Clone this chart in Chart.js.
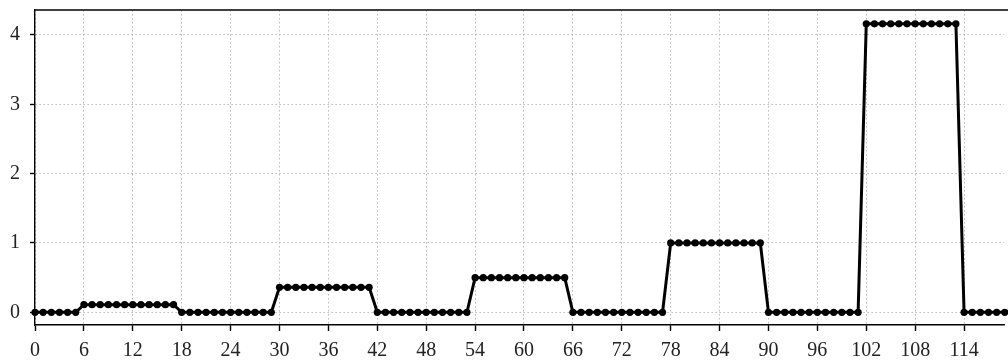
<!DOCTYPE html>
<html>
<head>
<meta charset="utf-8">
<script src="https://cdn.jsdelivr.net/npm/chart.js@4/dist/chart.umd.min.js"></script>
<style>
html,body{margin:0;padding:0;background:#fff;overflow:hidden;}
#wrap{width:1008px;height:362px;position:relative;}
</style>
</head>
<body>
<div id="wrap"><canvas id="c" width="1008" height="362"></canvas></div>
<script>
const steps = [0,1,2,3,4,5,6,7,8,9,10,11,12,13,14,15,16,17,18,19,20,21,22,23,24,25,26,27,28,29,
30,31,32,33,34,35,36,37,38,39,40,41,42,43,44,45,46,47,48,49,50,51,52,53,54,55,56,57,58,59,
60,61,62,63,64,65,66,67,68,69,70,71,72,73,74,75,76,77,78,79,80,81,82,83,84,85,86,87,88,89,
90,91,92,93,94,95,96,97,98,99,100,101,102,103,104,105,106,107,108,109,110,111,112,113,114,115,116,117,118,119];
const values = [
0,0,0,0,0,0,
0.11,0.11,0.11,0.11,0.11,0.11,0.11,0.11,0.11,0.11,0.11,0.11,
0,0,0,0,0,0,0,0,0,0,0,0,
0.36,0.36,0.36,0.36,0.36,0.36,0.36,0.36,0.36,0.36,0.36,0.36,
0,0,0,0,0,0,0,0,0,0,0,0,
0.5,0.5,0.5,0.5,0.5,0.5,0.5,0.5,0.5,0.5,0.5,0.5,
0,0,0,0,0,0,0,0,0,0,0,0,
1.0,1.0,1.0,1.0,1.0,1.0,1.0,1.0,1.0,1.0,1.0,1.0,
0,0,0,0,0,0,0,0,0,0,0,0,
4.16,4.16,4.16,4.16,4.16,4.16,4.16,4.16,4.16,4.16,4.16,4.16,
0,0,0,0,0,0];
const xTicks = [0,6,12,18,24,30,36,42,48,54,60,66,72,78,84,90,96,102,108,114];
const yTicks = [0,1,2,3,4];

const FONT = "'Liberation Serif','DejaVu Serif',serif";

const topBorder = {
  id:'topBorder',
  afterDraw(chart){
    const {ctx, chartArea:a} = chart;
    ctx.save();
    ctx.strokeStyle='#000';
    ctx.lineWidth=1.4;
    ctx.beginPath();
    ctx.moveTo(a.left, a.top);
    ctx.lineTo(a.right+20, a.top);
    ctx.stroke();
    ctx.restore();
  }
};

new Chart(document.getElementById('c'), {
  type:'line',
  data:{
    datasets:[{
      data: steps.map((s,i)=>({x:s, y:values[i]})),
      borderColor:'#000',
      backgroundColor:'#000',
      borderWidth:3,
      pointRadius:3.6,
      pointBorderWidth:0,
      pointBackgroundColor:'#000',
      tension:0,
      clip:false
    }]
  },
  options:{
    responsive:false,
    animation:false,
    events:[],
    layout:{padding:{top:0,right:0,left:0,bottom:0}},
    plugins:{legend:{display:false}, tooltip:{enabled:false}},
    scales:{
      x:{
        type:'linear',
        min:0, max:118.9,
        afterBuildTicks(s){ s.ticks = xTicks.map(v=>({value:v})); },
        afterFit(s){ s.height = 37; s.paddingRight = 0; s.paddingLeft = 0; },
        grid:{color:'#b0b0b0', lineWidth:0.9, drawTicks:true, tickLength:6, tickColor:'#000', tickWidth:1.4},
        border:{display:true, color:'#000', width:1.4, dash:[1.5,2.5]},
        ticks:{color:'#222', font:{family:FONT, size:20}, padding:8, maxRotation:0, autoSkip:false}
      },
      y:{
        type:'linear',
        min:-0.183, max:4.36,
        afterBuildTicks(s){ s.ticks = yTicks.map(v=>({value:v})); },
        afterFit(s){ s.width = 35; s.paddingTop = 10; s.paddingBottom = 0; },
        grid:{color:'#b0b0b0', lineWidth:0.9, drawTicks:true, tickLength:5, tickColor:'#000', tickWidth:1.4},
        border:{display:true, color:'#000', width:1.4, dash:[1.5,2.5]},
        ticks:{color:'#222', font:{family:FONT, size:20}, padding:10}
      }
    }
  },
  plugins:[topBorder]
});
</script>
</body>
</html>
